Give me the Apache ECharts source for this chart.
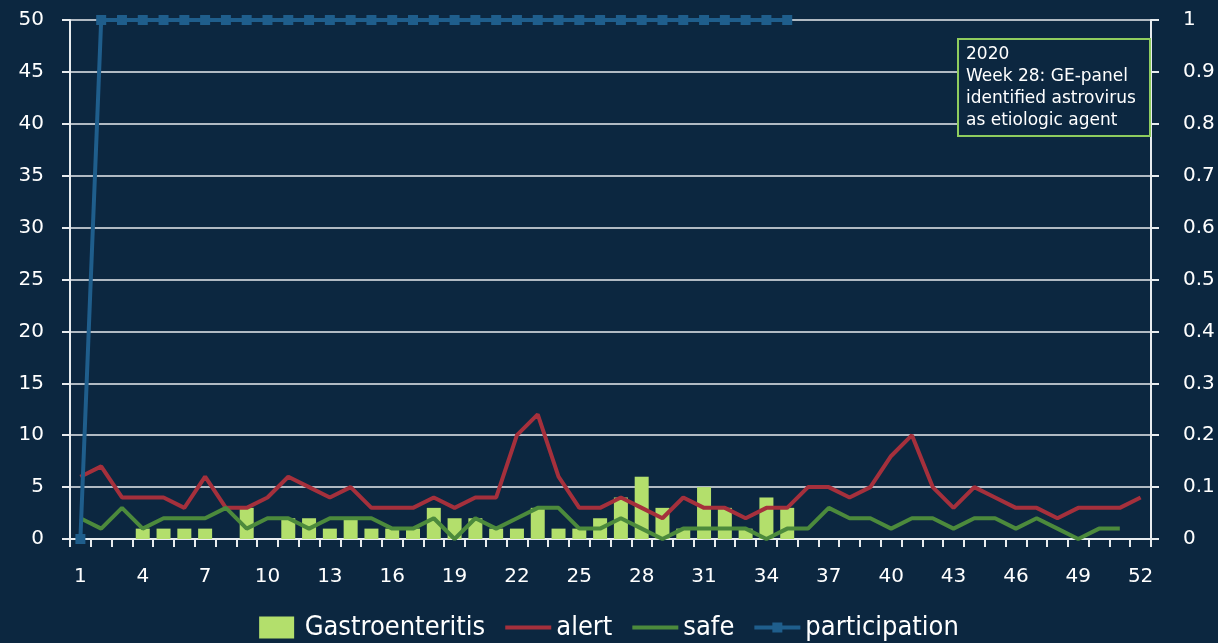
<!DOCTYPE html>
<html>
<head>
<meta charset="utf-8">
<script src="https://cdn.jsdelivr.net/npm/echarts@6/dist/echarts.min.js"></script>
<style>
  html, body { margin: 0; padding: 0; background: #0c2740; }
  #main { width: 1218px; height: 643px; }
</style>
</head>
<body>
<div id="main"></div>
<script>
// week numbers 1..52
var weeks = ['1','2','3','4','5','6','7','8','9','10','11','12','13','14','15','16','17','18','19','20','21','22','23','24','25','26',
             '27','28','29','30','31','32','33','34','35','36','37','38','39','40','41','42','43','44','45','46','47','48','49','50','51','52'];

// cases per week
var gastro = [0,0,0,1,1,1,1,0,3,0,2,2,1,2,1,1,1,3,2,2,1,1,3,1,1,2,
              4,6,3,1,5,3,1,4,3,null,null,null,null,null,null,null,null,null,null,null,null,null,null,null,null,null];

// threshold lines
var alertLine = [6,7,4,4,4,3,6,3,3,4,6,5,4,5,3,3,3,4,3,4,4,10,12,6,3,3,
                 4,3,2,4,3,3,2,3,3,5,5,4,5,8,10,5,3,5,4,3,3,2,3,3,3,4];
var safeLine = [2,1,3,1,2,2,2,3,1,2,2,1,2,2,2,1,1,2,0,2,1,2,3,3,1,1,
                2,1,0,1,1,1,1,0,1,1,3,2,2,1,2,2,1,2,2,1,2,1,0,1,1,null];

// participation (right axis)
var participation = [0,1,1,1,1,1,1,1,1,1,1,1,1,1,1,1,1,1,1,1,1,1,1,1,1,1,
                     1,1,1,1,1,1,1,1,1,null,null,null,null,null,null,null,null,null,null,null,null,null,null,null,null,null];

var noteLines = ['2020', 'Week 28: GE-panel', 'identified astrovirus', 'as etiologic agent'];

var font = 'DejaVu Sans';
var chart = echarts.init(document.getElementById('main'));

var option = {
  backgroundColor: '#0c2740',
  animation: false,
  textStyle: { fontFamily: font },
  grid: { left: 70, right: 67, top: 20, bottom: 104 },
  legend: {
    top: 609,
    left: 'center',
    itemGap: 20,
    itemWidth: 46,
    itemHeight: 22,
    textStyle: { color: '#ffffff', fontSize: 27, fontFamily: 'DejaVu Sans Condensed, DejaVu Sans' },
    data: [
      { name: 'Gastroenteritis', icon: 'path://M0,0 L35,0 L35,22 L0,22 Z', itemStyle: { color: '#b3df6c' } },
      { name: 'alert', icon: 'path://M0,0 L46,0 L46,4 L0,4 Z' },
      { name: 'safe', icon: 'path://M0,0 L46,0 L46,4 L0,4 Z' },
      { name: 'participation', icon: 'path://M0,3 L18,3 L18,0 L28,0 L28,3 L46,3 L46,7 L28,7 L28,10 L18,10 L18,7 L0,7 Z' }
    ]
  },
  xAxis: {
    type: 'category',
    data: weeks,
    boundaryGap: true,
    axisLine: { lineStyle: { color: '#e8ecef', width: 2 } },
    axisTick: { show: true, length: 8, lineStyle: { color: '#e8ecef', width: 2 }, interval: 0 },
    axisLabel: { color: '#ffffff', fontSize: 20, interval: 2, margin: 28 }
  },
  yAxis: [
    {
      type: 'value',
      min: 0, max: 50, interval: 5,
      axisLine: { show: true, lineStyle: { color: '#e8ecef', width: 2 } },
      axisTick: { show: true, length: 8, lineStyle: { color: '#e8ecef', width: 2 } },
      axisLabel: { color: '#ffffff', fontSize: 20, margin: 26 },
      splitLine: { lineStyle: { color: '#e8ecef', width: 1.5 } }
    },
    {
      type: 'value',
      min: 0, max: 1, interval: 0.1,
      position: 'right',
      axisLine: { show: true, lineStyle: { color: '#e8ecef', width: 2 } },
      axisTick: { show: true, length: 8, lineStyle: { color: '#e8ecef', width: 2 } },
      axisLabel: { color: '#ffffff', fontSize: 20, margin: 32 },
      splitLine: { show: false }
    }
  ],
  series: [
    {
      name: 'Gastroenteritis',
      type: 'bar',
      data: gastro,
      barWidth: 14,
      itemStyle: { color: '#b3df6c' }
    },
    {
      name: 'alert',
      type: 'line',
      data: alertLine,
      symbol: 'none',
      lineStyle: { color: '#a5303c', width: 4 },
      itemStyle: { color: '#a5303c' }
    },
    {
      name: 'safe',
      type: 'line',
      data: safeLine,
      symbol: 'none',
      lineStyle: { color: '#4c8a3c', width: 4 },
      itemStyle: { color: '#4c8a3c' }
    },
    {
      name: 'participation',
      type: 'line',
      yAxisIndex: 1,
      data: participation,
      symbol: 'rect',
      symbolSize: 10,
      lineStyle: { color: '#1f5e8c', width: 4 },
      itemStyle: { color: '#1f5e8c' }
    }
  ],
  graphic: [
    {
      type: 'rect',
      left: 957, top: 38,
      shape: { width: 192, height: 97 },
      style: { fill: '#0c2740', stroke: '#8fcc5e', lineWidth: 2 },
      z: 100
    },
    {
      type: 'text',
      left: 966, top: 44,
      style: {
        text: noteLines.join('\n'),
        fill: '#ffffff',
        font: '17px ' + font,
        lineHeight: 22
      },
      z: 101
    }
  ]
};

chart.setOption(option);
</script>
</body>
</html>
